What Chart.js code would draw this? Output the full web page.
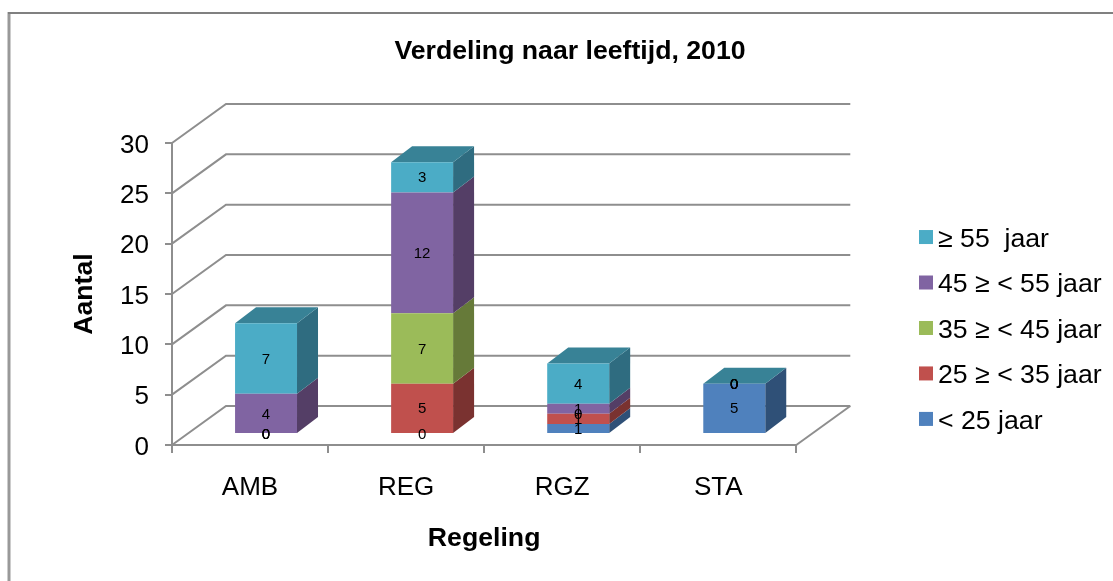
<!DOCTYPE html>
<html>
<head>
<meta charset="utf-8">
<style>
html,body{margin:0;padding:0;background:#fff;overflow:hidden;width:1113px;height:581px}
#c{display:block}
</style>
<script src="https://cdn.jsdelivr.net/npm/chart.js@4"></script>
</head>
<body>
<canvas id="c" width="1113" height="581"></canvas>
<script>
const categories = ["AMB", "REG", "RGZ", "STA"];
const seriesNames = ["< 25 jaar", "25 ≥ < 35 jaar", "35 ≥ < 45 jaar", "45 ≥ < 55 jaar", "≥ 55  jaar"];
const under25 = [0, 0, 1, 5];
const from25to35 = [0, 5, 1, 0];
const from35to45 = [0, 7, 0, 0];
const from45to55 = [4, 12, 1, 0];
const over55 = [7, 3, 4, 0];
const frontColors = ["#4F81BD", "#C0504D", "#9BBB59", "#8064A2", "#4BACC6"];
const sideColors = ["#2F5077", "#7A3230", "#667A39", "#543E66", "#2F6C80"];
const topColor = "#388296";

const FONT = "'Liberation Sans', Arial, sans-serif";
const GRAY = "#8E8E8E";
// pseudo-3D geometry, in canvas pixels
const BAR_DX = 16, BAR_DY = 11, SIDE_DX = 21, SIDE_DY = 16, WALL_DX = 54, WALL_DY = 39;

const depth3d = {
  id: "depth3d",
  afterLayout(chart) {
    const t = chart.titleBlock;
    const shift = 570 - (t.left + t.right) / 2;
    t.left += shift; t.right += shift;
    const l = chart.legend, p = l.options.labels.padding;
    l.left = 920.7 - p;
    l.right = 1113;
    l.top = 207.4;
  },
  beforeDraw(chart) {
    const c = chart.ctx;
    c.save();
    c.strokeStyle = "#999999";
    c.lineWidth = 3;
    c.beginPath(); c.moveTo(9, 581); c.lineTo(9, 12); c.stroke();
    c.strokeStyle = "#808080";
    c.lineWidth = 2;
    c.beginPath(); c.moveTo(8, 13); c.lineTo(1113, 13); c.stroke();
    c.restore();
  },
  beforeDatasetsDraw(chart) {
    const c = chart.ctx, y = chart.scales.y, a = chart.chartArea;
    c.save();
    c.strokeStyle = GRAY;
    c.lineWidth = 2;
    y.ticks.forEach(t => {
      const py = y.getPixelForValue(t.value);
      c.beginPath();
      c.moveTo(a.left, py);
      c.lineTo(a.left + WALL_DX, py - WALL_DY);
      c.lineTo(a.right + WALL_DX, py - WALL_DY);
      c.stroke();
    });
    c.beginPath();
    c.moveTo(a.right, a.bottom);
    c.lineTo(a.right + WALL_DX, a.bottom - WALL_DY);
    c.stroke();
    // side faces of each segment, then the top face of the whole stack
    const last = chart.data.datasets.length - 1;
    chart.data.datasets.forEach((ds, i) => {
      chart.getDatasetMeta(i).data.forEach((bar, j) => {
        const r = bar.x + bar.width / 2 + BAR_DX;
        const l = bar.x - bar.width / 2 + BAR_DX;
        const top = bar.y - BAR_DY, base = bar.base - BAR_DY;
        if (ds.data[j] > 0) {
          c.fillStyle = sideColors[i];
          c.beginPath();
          c.moveTo(r, top); c.lineTo(r + SIDE_DX, top - SIDE_DY);
          c.lineTo(r + SIDE_DX, base - SIDE_DY); c.lineTo(r, base);
          c.closePath(); c.fill();
        }
        if (i === last) {
          c.fillStyle = topColor;
          c.beginPath();
          c.moveTo(l, top); c.lineTo(l + SIDE_DX, top - SIDE_DY);
          c.lineTo(r + SIDE_DX, top - SIDE_DY); c.lineTo(r, top);
          c.closePath(); c.fill();
        }
      });
    });
    c.restore();
  },
  beforeDatasetDraw(chart) {
    chart.ctx.save();
    chart.ctx.translate(BAR_DX, -BAR_DY);
  },
  afterDatasetDraw(chart) {
    chart.ctx.restore();
  },
  afterDatasetsDraw(chart) {
    const c = chart.ctx;
    c.save();
    c.fillStyle = "#000";
    c.font = "15px " + FONT;
    c.textAlign = "center";
    c.textBaseline = "middle";
    chart.data.datasets.forEach((ds, i) => {
      chart.getDatasetMeta(i).data.forEach((bar, j) => {
        c.fillText(String(ds.data[j]), bar.x + BAR_DX, (bar.y + bar.base) / 2 - BAR_DY + 1);
      });
    });
    c.restore();
  },
  afterDraw(chart) {
    const l = chart.legend, c = chart.ctx;
    c.save();
    l.legendItems.forEach((item, i) => {
      const h = l.legendHitBoxes[i];
      c.fillStyle = item.fillStyle;
      c.fillRect(h.left - 1.7, h.top + h.height / 2 - 9.5, 14, 14);
    });
    c.restore();
  }
};

new Chart(document.getElementById("c"), {
  type: "bar",
  data: {
    labels: categories,
    datasets: [under25, from25to35, from35to45, from45to55, over55].map((d, i) => ({
      label: seriesNames[i],
      data: d,
      backgroundColor: frontColors[i],
      borderWidth: 0,
      categoryPercentage: 1,
      barPercentage: 0.397
    }))
  },
  plugins: [depth3d],
  options: {
    responsive: false,
    animation: false,
    layout: { padding: { left: 58, right: 107, top: 13, bottom: 26 } },
    plugins: {
      tooltip: { enabled: false },
      title: {
        display: true,
        text: "Verdeling naar leeftijd, 2010",
        color: "#000",
        font: { family: FONT, size: 26.67, weight: "bold" },
        padding: { top: 23, bottom: 75 }
      },
      legend: {
        display: true,
        position: "right",
        align: "start",
        reverse: true,
        labels: {
          color: "#000",
          font: { family: FONT, size: 26.67 },
          boxWidth: 4,
          boxHeight: 8,
          padding: 18.8
        }
      }
    },
    scales: {
      x: {
        stacked: true,
        afterFit(s) { s.height = 110; },
        grid: { drawOnChartArea: false, color: GRAY, lineWidth: 2, tickLength: 8 },
        border: { display: true, color: GRAY, width: 2 },
        ticks: { color: "#000", font: { family: FONT, size: 26 }, padding: 19.4, maxRotation: 0, autoSkip: false },
        title: { display: true, text: "Regeling", color: "#000", font: { family: FONT, size: 26.67, weight: "bold" }, padding: { top: 0, bottom: 0 } }
      },
      y: {
        stacked: true,
        min: 0,
        max: 30,
        afterFit(s) { s.width = 114; },
        grid: { drawOnChartArea: false, color: GRAY, lineWidth: 2, tickLength: 7 },
        border: { display: true, color: GRAY, width: 2 },
        ticks: { stepSize: 5, color: "#000", font: { family: FONT, size: 26 }, padding: 16, labelOffset: 2.5 },
        title: { display: true, text: "Aantal", color: "#000", font: { family: FONT, size: 26.67, weight: "bold" }, padding: { top: 11, bottom: 0 } }
      }
    }
  }
});
</script>
</body>
</html>
